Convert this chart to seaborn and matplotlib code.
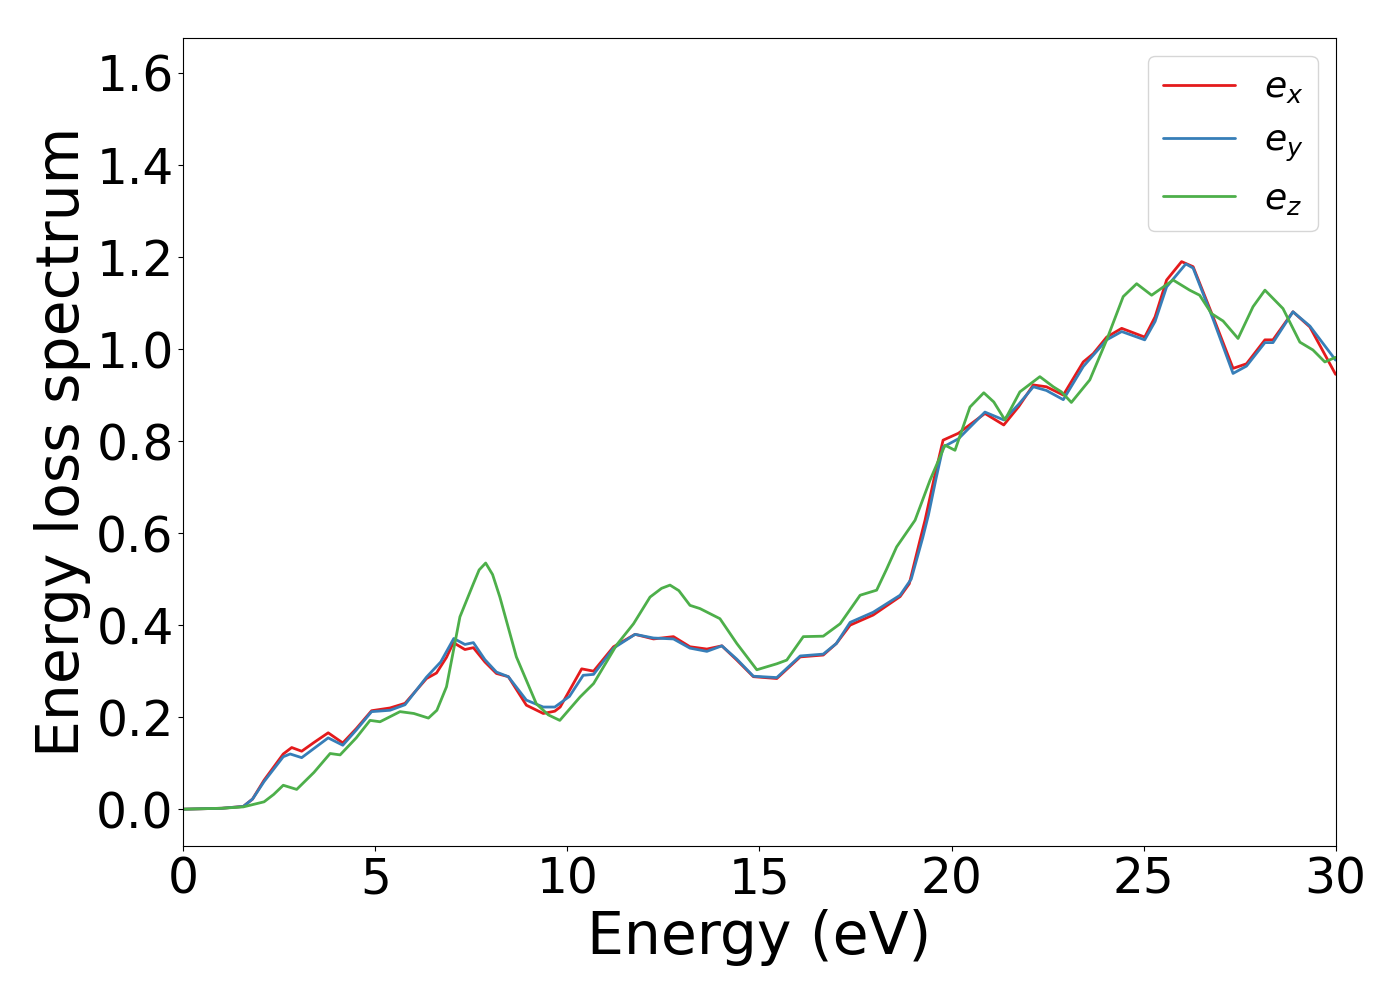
import numpy as np
import pandas as pd
import seaborn as sns
import matplotlib
matplotlib.use("Agg")
import matplotlib.pyplot as plt

# energy loss spectrum, one array pair per direction
energy_x = [0.0, 1.0, 1.56, 1.8, 2.1, 2.6, 2.82, 3.08, 3.4, 3.77, 4.15, 4.5, 4.9, 5.38, 5.77,
            6.33, 6.59, 6.85, 7.03, 7.33, 7.55, 7.85, 8.15, 8.46, 8.93, 9.37, 9.67, 9.81,
            10.1, 10.37, 10.68, 11.2, 11.76, 12.24, 12.76, 13.19, 13.63, 14.02, 14.41, 14.84,
            15.45, 16.06, 16.66, 17.0, 17.36, 17.96, 18.66, 18.9, 19.18, 19.31, 19.55, 19.78,
            20.18, 20.87, 21.36, 21.75, 22.13, 22.47, 22.91, 23.43, 23.69, 24.04, 24.43,
            25.03, 25.3, 25.6, 25.99, 26.29, 26.81, 27.33, 27.68, 28.16, 28.37, 28.89, 29.33,
            30.0]
loss_x = [0.0, 0.002, 0.006, 0.022, 0.063, 0.12, 0.134, 0.126, 0.145, 0.166, 0.144, 0.175,
          0.214, 0.22, 0.23, 0.284, 0.296, 0.33, 0.362, 0.347, 0.351, 0.32, 0.295, 0.288,
          0.226, 0.208, 0.213, 0.222, 0.265, 0.305, 0.300, 0.353, 0.380, 0.370, 0.375, 0.353,
          0.348, 0.355, 0.324, 0.288, 0.284, 0.331, 0.335, 0.36, 0.400, 0.422, 0.462, 0.49,
          0.585, 0.628, 0.72, 0.802, 0.817, 0.86, 0.835, 0.875, 0.922, 0.918, 0.900, 0.972,
          0.990, 1.026, 1.045, 1.026, 1.07, 1.150, 1.190, 1.179, 1.070, 0.958, 0.968, 1.020,
          1.020, 1.081, 1.048, 0.945]

energy_y = [0.0, 1.0, 1.56, 1.8, 2.1, 2.6, 2.78, 3.08, 3.4, 3.77, 4.15, 4.5, 4.9, 5.38, 5.77,
            6.33, 6.7, 7.04, 7.33, 7.55, 7.85, 8.15, 8.46, 8.93, 9.37, 9.67, 10.05, 10.41,
            10.68, 11.2, 11.76, 12.24, 12.76, 13.19, 13.63, 14.02, 14.41, 14.84, 15.45, 16.06,
            16.66, 17.0, 17.36, 17.96, 18.66, 18.95, 19.25, 19.4, 19.6, 19.78, 20.18, 20.87,
            21.36, 21.75, 22.13, 22.47, 22.91, 23.43, 24.04, 24.43, 25.03, 25.3, 25.6, 26.1,
            26.29, 26.81, 27.33, 27.68, 28.16, 28.37, 28.89, 29.33, 30.0]
loss_y = [0.0, 0.002, 0.006, 0.022, 0.06, 0.114, 0.12, 0.112, 0.132, 0.155, 0.139, 0.172,
          0.212, 0.215, 0.227, 0.287, 0.32, 0.371, 0.358, 0.362, 0.325, 0.298, 0.288, 0.237,
          0.222, 0.222, 0.245, 0.291, 0.293, 0.350, 0.380, 0.372, 0.370, 0.350, 0.343, 0.355,
          0.326, 0.289, 0.286, 0.333, 0.337, 0.36, 0.406, 0.428, 0.465, 0.50, 0.59, 0.64,
          0.72, 0.787, 0.805, 0.863, 0.846, 0.88, 0.918, 0.910, 0.890, 0.962, 1.020, 1.038,
          1.020, 1.06, 1.135, 1.185, 1.176, 1.065, 0.947, 0.963, 1.014, 1.014, 1.081, 1.050,
          0.976]

energy_z = [0.0, 1.0, 1.56, 2.1, 2.35, 2.6, 2.95, 3.4, 3.82, 4.08, 4.5, 4.86, 5.12, 5.64,
            6.0, 6.38, 6.6, 6.85, 7.2, 7.55, 7.7, 7.87, 8.05, 8.24, 8.67, 9.19, 9.5, 9.8,
            10.33, 10.68, 11.28, 11.72, 12.15, 12.45, 12.67, 12.9, 13.19, 13.45, 13.97, 14.41,
            14.93, 15.45, 15.71, 16.14, 16.66, 17.1, 17.62, 18.05, 18.3, 18.57, 19.05, 19.44,
            19.83, 20.09, 20.48, 20.84, 21.1, 21.39, 21.78, 22.3, 22.65, 22.86, 23.12, 23.6,
            24.04, 24.47, 24.82, 25.21, 25.77, 26.2, 26.46, 26.77, 27.07, 27.46, 27.85, 28.16,
            28.63, 29.07, 29.41, 29.72, 30.0]
loss_z = [0.0, 0.002, 0.005, 0.016, 0.032, 0.052, 0.043, 0.08, 0.121, 0.118, 0.155, 0.193,
          0.190, 0.212, 0.208, 0.198, 0.215, 0.266, 0.418, 0.490, 0.52, 0.535, 0.51, 0.461,
          0.331, 0.229, 0.205, 0.193, 0.244, 0.273, 0.357, 0.403, 0.461, 0.48, 0.487, 0.475,
          0.443, 0.436, 0.414, 0.360, 0.303, 0.316, 0.324, 0.375, 0.376, 0.403, 0.465, 0.476,
          0.52, 0.570, 0.628, 0.715, 0.791, 0.780, 0.874, 0.905, 0.885, 0.846, 0.907, 0.940,
          0.918, 0.907, 0.884, 0.933, 1.020, 1.114, 1.142, 1.117, 1.150, 1.128, 1.117, 1.077,
          1.061, 1.023, 1.092, 1.128, 1.088, 1.015, 0.998, 0.972, 0.982]

labels = ["$e_x$", "$e_y$", "$e_z$"]

df = pd.concat([
    pd.DataFrame({"energy": energy_x, "loss": loss_x, "dir": labels[0]}),
    pd.DataFrame({"energy": energy_y, "loss": loss_y, "dir": labels[1]}),
    pd.DataFrame({"energy": energy_z, "loss": loss_z, "dir": labels[2]}),
])

sns.set_style("ticks")
plt.rcParams["font.family"] = ["DejaVu Sans"]
plt.rcParams["mathtext.fontset"] = "dejavusans"
plt.rcParams.update({"text.color": "black", "axes.labelcolor": "black",
                     "xtick.color": "black", "ytick.color": "black",
                     "axes.edgecolor": "black"})

fig, ax = plt.subplots(figsize=(14, 10), dpi=100)
fig.subplots_adjust(left=0.131, right=0.954, top=0.962, bottom=0.154)

sns.lineplot(data=df, x="energy", y="loss", hue="dir", palette="Set1",
             estimator=None, linewidth=2, ax=ax)

ax.set_xlim(0, 30)
ax.set_ylim(-0.08, 1.676)
ax.set_yticks(np.arange(0, 1.61, 0.2))
ax.set_xticks([0, 5, 10, 15, 20, 25, 30])
ax.tick_params(labelsize=35, length=3.5, width=0.8)
ax.set_xlabel("Energy (eV)", fontsize=42)
ax.set_ylabel("Energy loss spectrum", fontsize=42)
for sp in ax.spines.values():
    sp.set_linewidth(0.8)

leg = ax.legend(loc="upper right", fontsize=26, title=None)
for line in leg.get_lines():
    line.set_linewidth(2)

plt.savefig("out.png", dpi=100)
